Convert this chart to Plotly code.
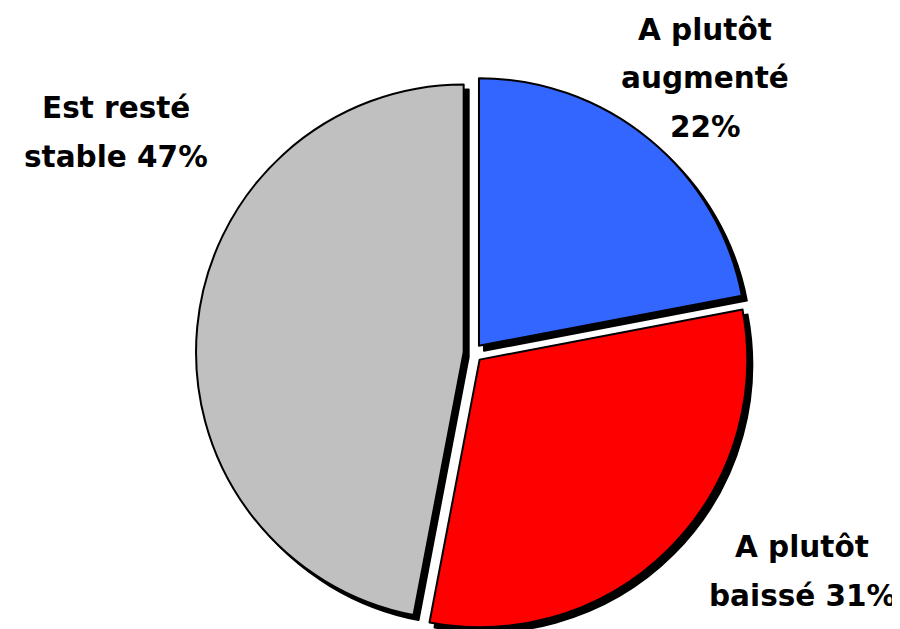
import plotly.graph_objects as go

labels = ["A plutôt augmenté", "A plutôt baissé", "Est resté stable"]
values = [22, 31, 47]
colors = ["#3366FF", "#FF0000", "#C0C0C0"]
# label lines (text split for display)
label_lines = [["A plutôt", "augmenté", "{v}%"], ["A plutôt", "baissé {v}%"], ["Est resté", "stable {v}%"]]

W, H = 900, 629
pull = [0.035, 0.035, 0.035]
cx, cy = 465, 345          # pixel centre of pie domain
half = 277                 # half-size of domain (pixels)
dom_x = [(cx - 330) / W, (cx + 330) / W]
dom_y = [(H - cy - half) / H, (H - cy + half) / H]
sx, sy = 5 / W, 5 / H

fig = go.Figure()
# shadow
fig.add_trace(go.Pie(
    labels=labels, values=values, sort=False, direction="clockwise", rotation=0,
    pull=pull, marker=dict(colors=["#000000"] * 3, line=dict(color="#000000", width=2)),
    textinfo="none", hoverinfo="skip", showlegend=False,
    domain=dict(x=[dom_x[0] + sx, dom_x[1] + sx], y=[max(dom_y[0] - sy, 0), dom_y[1] - sy]),
))
fig.add_trace(go.Pie(
    labels=labels, values=values, sort=False, direction="clockwise", rotation=0,
    pull=pull, marker=dict(colors=colors, line=dict(color="#000000", width=2)),
    textinfo="none", showlegend=False,
    domain=dict(x=dom_x, y=dom_y),
))

# label anchor positions (pixel centers of first line) and line spacing
anchors = [(697, 22), (794, 539), (108, 100)]
spacing = 48.5
for lines, v, (ax, ay) in zip(label_lines, values, anchors):
    for i, ln in enumerate(lines):
        fig.add_annotation(
            x=ax / W, y=1 - (ay + i * spacing) / H, xref="paper", yref="paper",
            text="<b>" + ln.format(v=v) + "</b>", showarrow=False,
            xanchor="center", yanchor="middle",
            font=dict(family="DejaVu Sans", size=29.5, color="#000000"),
        )

fig.update_layout(
    width=W, height=H, margin=dict(l=0, r=0, t=0, b=0),
    paper_bgcolor="white", plot_bgcolor="white", showlegend=False,
)
fig.write_html("out.html")
